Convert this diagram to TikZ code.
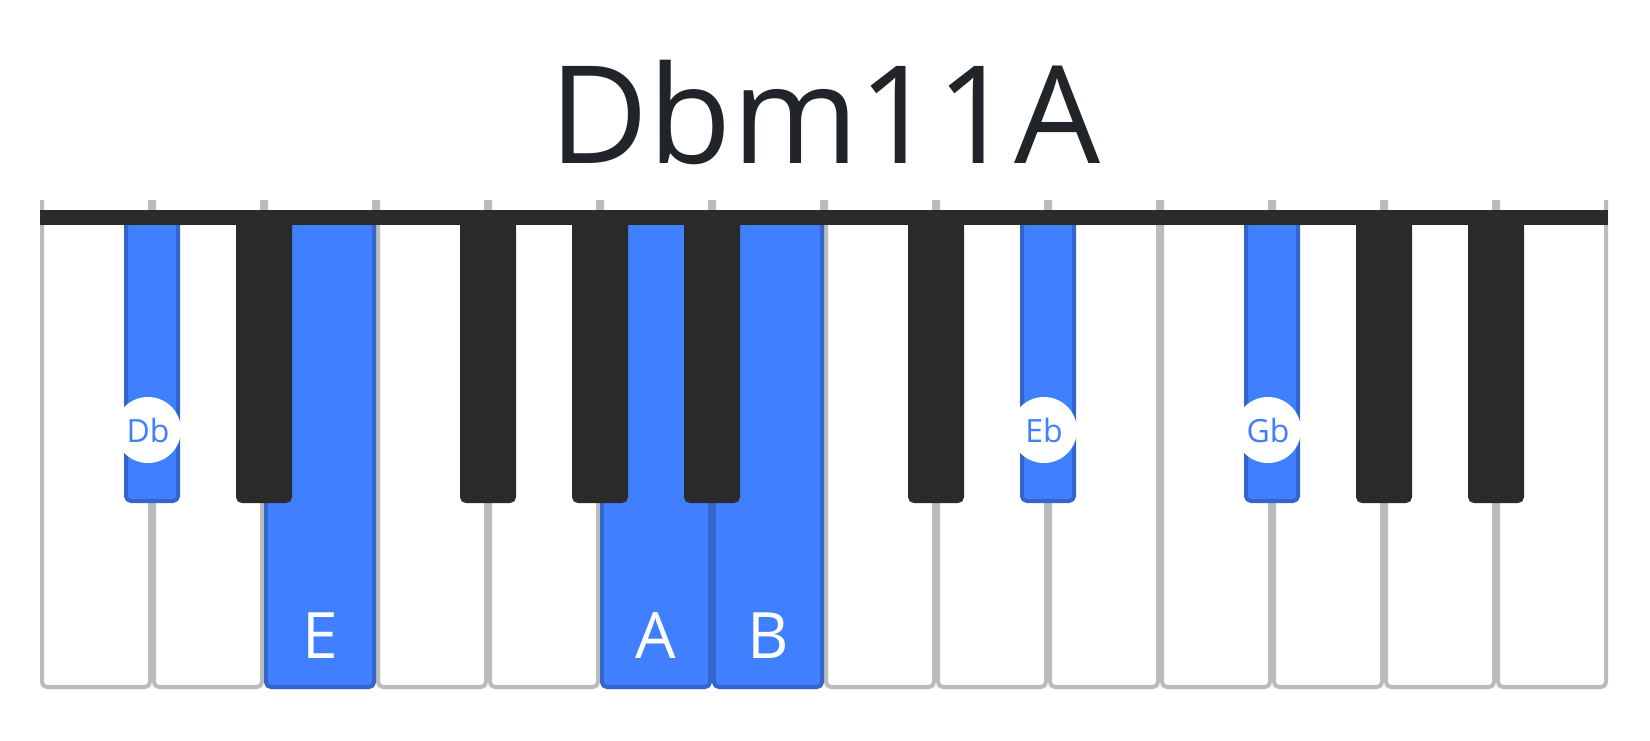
\documentclass[tikz,border=0pt]{standalone}
\usepackage{fontspec}
\setmainfont{Open Sans}
\definecolor{keyblue}{HTML}{4080FF}
\definecolor{keyedge}{HTML}{3366CC}
\definecolor{keyblack}{HTML}{2A2A2A}
\definecolor{keygray}{HTML}{BBBBBB}
\definecolor{titlegray}{HTML}{212529}
\begin{document}
\begin{tikzpicture}[x=1pt,y=-1pt,
    whitekey/.style={fill=white,draw=keygray,line width=4pt,rounded corners=5pt},
    bluewhite/.style={fill=keyblue,draw=keyedge,line width=4pt,rounded corners=5pt},
    blackkey/.style={fill=keyblack,draw=keyblack,line width=2pt,rounded corners=5pt},
    blueblack/.style={fill=keyblue,draw=keyedge,line width=4pt,rounded corners=5pt},
    bignote/.style={text=white,font=\fontsize{64}{64}\selectfont},
    smallnote/.style={circle,fill=white,text=keyblue,minimum size=66pt,inner sep=0pt,font=\fontsize{32}{32}\selectfont}]
    \useasboundingbox (0,0) rectangle (1650,740);
    \node[text=titlegray,font=\fontsize{136}{136}\selectfont] (title) at (825,112) {Dbm11A};
    % white keys
    \foreach \k in {0,...,13}{
        \draw[whitekey] (40+112*\k+2,200) -- (40+112*\k+2,687) -- (40+112*\k+110,687) -- (40+112*\k+110,200);
    }
    \foreach \k in {2,5,6}{
        \draw[bluewhite] (40+112*\k+2,220) -- (40+112*\k+2,687) -- (40+112*\k+110,687) -- (40+112*\k+110,220);
    }
    % black keys
    \foreach \b in {2,4,5,6,8,12,13}{
        \draw[blackkey] (40+112*\b-27,215) -- (40+112*\b-27,502) -- (40+112*\b+27,502) -- (40+112*\b+27,215);
    }
    \foreach \b in {1,9,11}{
        \draw[blueblack] (40+112*\b-26,215) -- (40+112*\b-26,501) -- (40+112*\b+26,501) -- (40+112*\b+26,215);
    }
    \fill[keyblack] (40,210) rectangle (1608,225);
    % labels
    \node[bignote] (nE) at (320,636) {E};
    \node[bignote] (nA) at (656,636) {A};
    \node[bignote] (nB) at (768,636) {B};
    \node[smallnote] (nDb) at (148,430) {Db};
    \node[smallnote] (nEb) at (1044,430) {Eb};
    \node[smallnote] (nGb) at (1268,430) {Gb};
\end{tikzpicture}
\end{document}
